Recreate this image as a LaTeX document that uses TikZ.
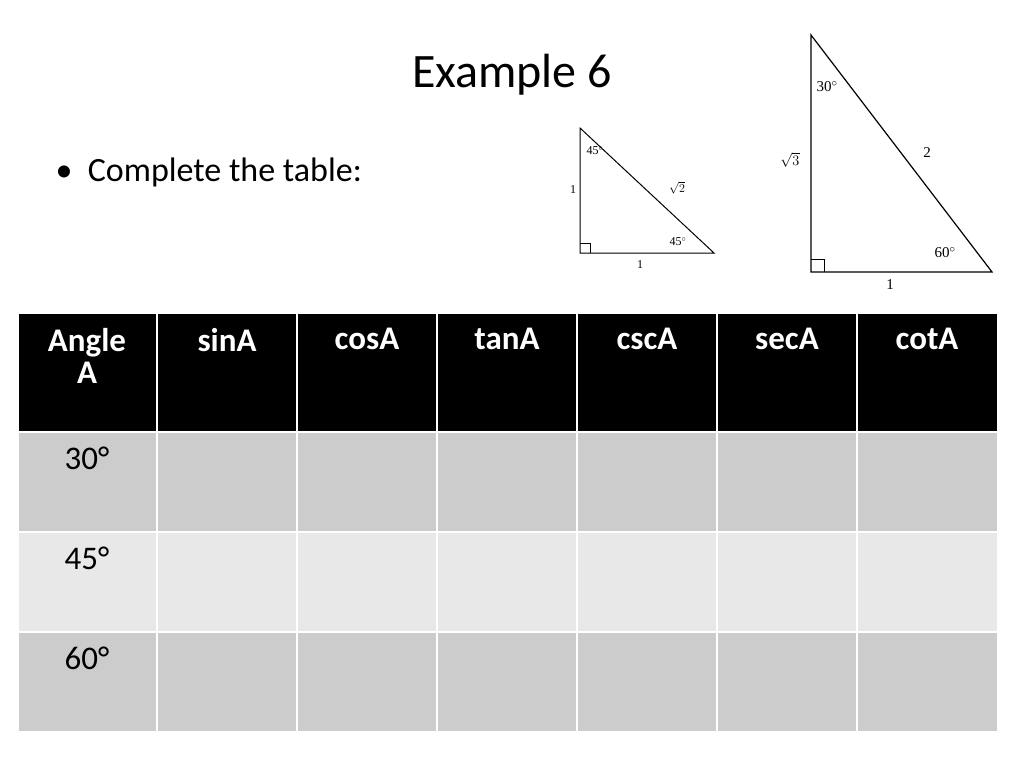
\documentclass[tikz,border=0pt]{standalone}
\usepackage{fontspec}
\setmainfont{Carlito}
\newfontfamily\tri{Liberation Serif}
\begin{document}
\begin{tikzpicture}[x=1pt,y=-1pt,
  cell/.style={draw=white,line width=1.5pt},
  hd/.style={font=\fontsize{33}{36}\selectfont\bfseries,text=white,align=center,anchor=north},
  rl/.style={font=\fontsize{33}{36}\selectfont,anchor=north},
  tl/.style={font=\tri\fontsize{12}{12}\selectfont,inner sep=0pt},
  TL/.style={font=\tri\fontsize{15}{15}\selectfont,inner sep=0pt}]
\useasboundingbox (0,0) rectangle (1024,768);
\node[font=\fontsize{48}{50}\selectfont] (title) at (512,75) {Example 6};
\node[font=\fontsize{34}{36}\selectfont,anchor=west] (bul) at (52,172) {\textbullet\ \ Complete the table:};
% small triangle
\coordinate (a1) at (580,128); \coordinate (b1) at (580,253); \coordinate (c1) at (714,253);
\draw[line width=1pt] (a1) -- (b1) -- (c1) -- cycle;
\draw[line width=0.6pt] (580,243) -- (590,243) -- (590,253);
\node[tl] (s1) at (595,151) {45$^\circ$};
\node[tl] (s2) at (573,190) {1};
\node[tl] (s3) at (677,188) {$\sqrt{2}$};
\node[tl] (s4) at (678,242) {45$^\circ$};
\node[tl] (s5) at (640,265) {1};
% big triangle
\coordinate (a2) at (811,35); \coordinate (b2) at (811,272); \coordinate (c2) at (992,272);
\draw[line width=1.2pt] (a2) -- (b2) -- (c2) -- cycle;
\draw[line width=0.7pt] (811,259) -- (824,259) -- (824,272);
\node[TL] (t1) at (827,87) {30$^\circ$};
\node[TL] (t2) at (790,160) {$\sqrt{3}$};
\node[TL] (t3) at (927,153) {2};
\node[TL] (t4) at (945,253) {60$^\circ$};
\node[TL] (t5) at (890,285) {1};
% table
\def\xs{18,157,297,437,577,717,857}
\foreach \x [count=\i] in \xs {
  \pgfmathsetmacro\xr{{18,157,297,437,577,717,857,998}[\i]}
  \fill[black] (\x,313) rectangle (\xr,432);
  \fill[black!20] (\x,432) rectangle (\xr,532);
  \fill[black!9] (\x,532) rectangle (\xr,632);
  \fill[black!20] (\x,632) rectangle (\xr,732);
  \draw[cell] (\x,313) rectangle (\xr,432);
  \draw[cell] (\x,432) rectangle (\xr,532);
  \draw[cell] (\x,532) rectangle (\xr,632);
  \draw[cell] (\x,632) rectangle (\xr,732);
}
\node[hd] (h0) at (87,325) {Angle\\[-4pt]A};
\node[hd] (h1) at (227,325) {sinA};
\node[hd] (h2) at (367,325) {cosA};
\node[hd] (h3) at (507,325) {tanA};
\node[hd] (h4) at (647,325) {cscA};
\node[hd] (h5) at (787,325) {secA};
\node[hd] (h6) at (927,325) {cotA};
\node[rl] (r1) at (87,443) {30°};
\node[rl] (r2) at (87,543) {45°};
\node[rl] (r3) at (87,643) {60°};
\end{tikzpicture}
\end{document}
